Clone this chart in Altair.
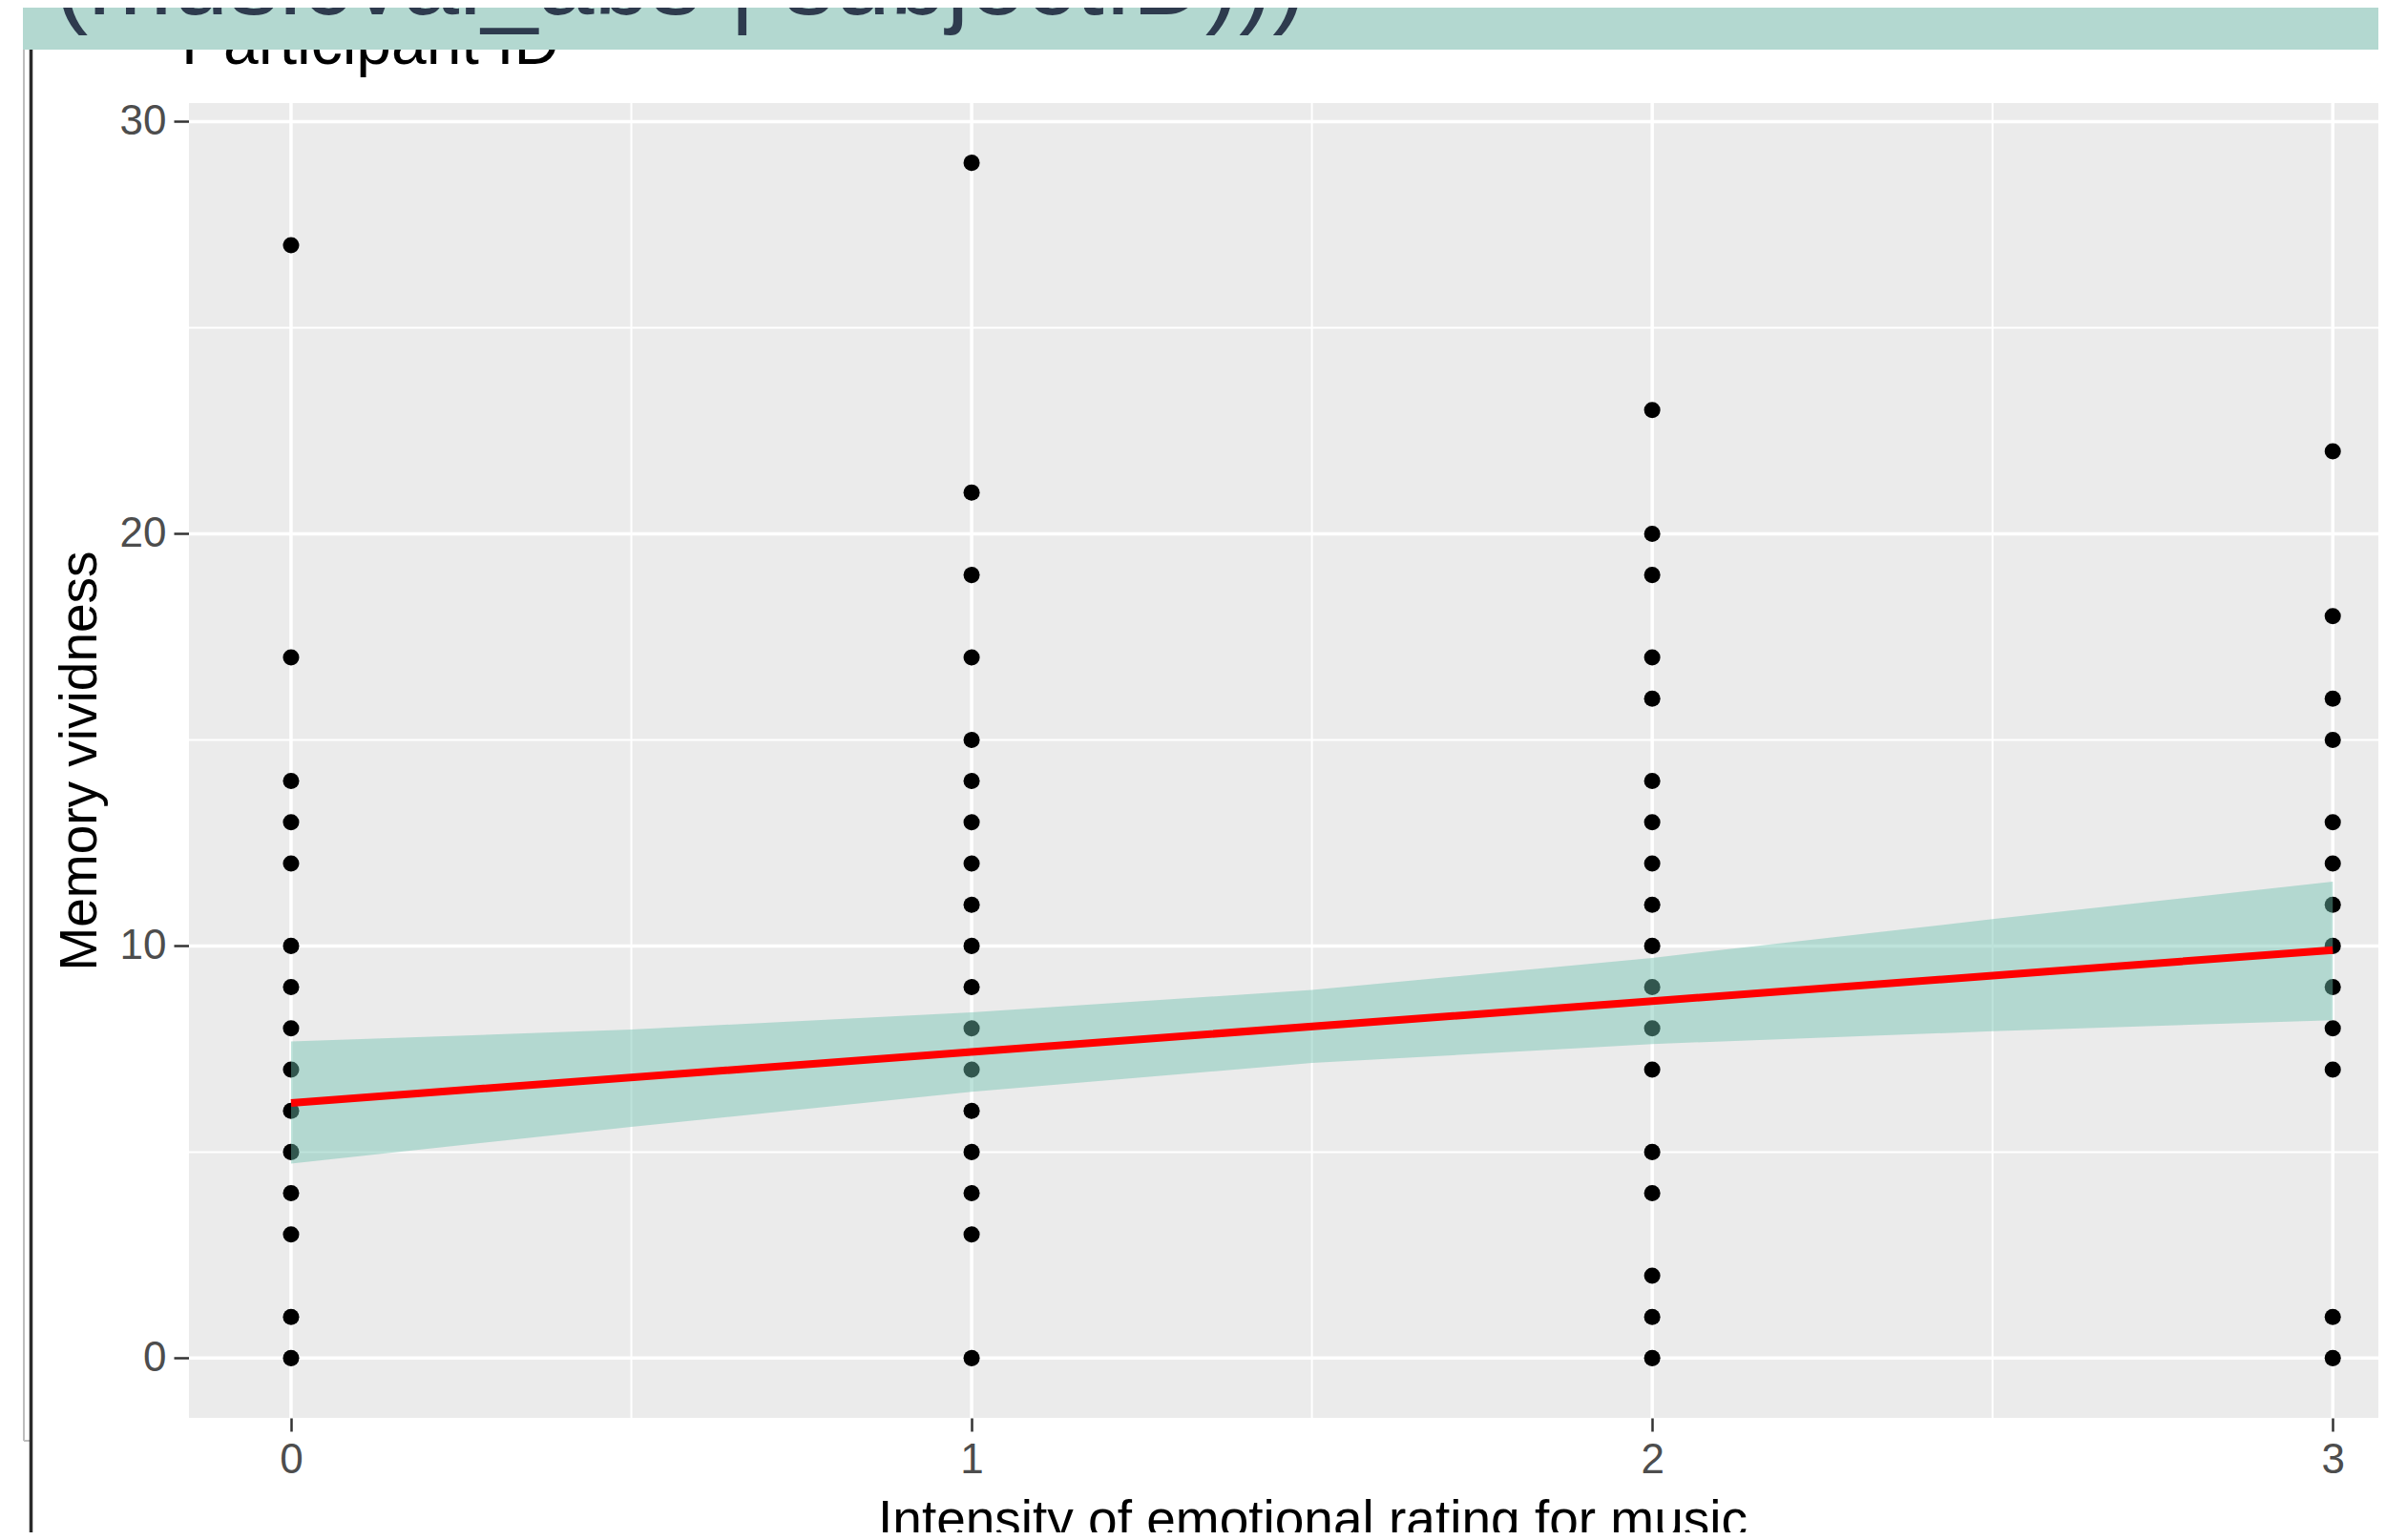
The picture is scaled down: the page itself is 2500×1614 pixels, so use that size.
import altair as alt
import pandas as pd

# ---- data ----
x_levels = [0, 1, 2, 3]
vivid_x0 = [27, 17, 14, 13, 12, 10, 9, 8, 7, 6, 5, 4, 3, 1, 0]
vivid_x1 = [29, 21, 19, 17, 15, 14, 13, 12, 11, 10, 9, 8, 7, 6, 5, 4, 3, 0]
vivid_x2 = [23, 20, 19, 17, 16, 14, 13, 12, 11, 10, 9, 8, 7, 5, 4, 2, 1, 0]
vivid_x3 = [22, 18, 16, 15, 13, 12, 11, 10, 9, 8, 7, 1, 0]

line_x = [0, 1, 2, 3]
line_y = [6.19, 7.43, 8.66, 9.90]

band_x = [0, 0.5, 1, 1.5, 2, 2.5, 3]
band_upper = [7.68, 7.97, 8.39, 8.93, 9.71, 10.65, 11.56]
band_lower = [4.72, 5.61, 6.46, 7.16, 7.62, 7.93, 8.20]

x_major = [0, 1, 2, 3]
x_minor = [0.5, 1.5, 2.5]
y_major = [0, 10, 20, 30]
y_minor = [5, 15, 25]

title_banner = "(musicval_abs | subjectID)))"
title_text = "Participant ID"
x_title = "Intensity of emotional rating for music"
y_title = "Memory vividness"

# ---- tables ----
rows = []
for xv, col in zip(x_levels, [vivid_x0, vivid_x1, vivid_x2, vivid_x3]):
    for v in col:
        rows.append({"emo": xv, "vivid": v})
pts = pd.DataFrame(rows)
line_df = pd.DataFrame({"emo": line_x, "vivid": line_y})
band_df = pd.DataFrame({"emo": band_x, "hi": band_upper, "lo": band_lower})
xmaj_df = pd.DataFrame({"emo": x_major})
xmin_df = pd.DataFrame({"emo": x_minor})
ymaj_df = pd.DataFrame({"vivid": y_major})
ymin_df = pd.DataFrame({"vivid": y_minor})
dummy = pd.DataFrame({"d": [0]})

FONT = "Liberation Sans"
xscale = alt.Scale(domain=[-0.15, 3.067], nice=False, zero=False)
yscale = alt.Scale(domain=[-1.45, 30.45], nice=False, zero=False)

x_axis = alt.Axis(
    values=x_major, format="d", title=x_title, grid=False, domain=False,
    tickColor="#333333", tickWidth=2.5, tickSize=14,
    labelFont=FONT, labelFontSize=44, labelColor="#4D4D4D", labelPadding=8,
    labelFlush=False, labelOverlap=False, labelBound=False,
    titleFont=FONT, titleFontSize=55, titleFontWeight="normal", titleColor="#000000",
    titleX=1177, titleY=124, titleAlign="center", titleBaseline="alphabetic",
)
y_axis = alt.Axis(
    values=y_major, format="d", title=y_title, grid=False, domain=False,
    tickColor="#333333", tickWidth=2.5, tickSize=16,
    labelFont=FONT, labelFontSize=44, labelColor="#4D4D4D", labelPadding=8,
    labelOverlap=False, labelBound=False, labelFlush=False,
    titleFont=FONT, titleFontSize=55, titleFontWeight="normal", titleColor="#000000",
    titleX=-98, titleY=689, titleAngle=270, titleAlign="center", titleBaseline="alphabetic",
)

X = lambda f: alt.X(f, scale=xscale, axis=x_axis)
Y = lambda f: alt.Y(f, scale=yscale, axis=y_axis)

minor_x = alt.Chart(xmin_df).mark_rule(color="white", strokeWidth=2).encode(x=X("emo:Q"))
minor_y = alt.Chart(ymin_df).mark_rule(color="white", strokeWidth=2).encode(y=Y("vivid:Q"))
major_x = alt.Chart(xmaj_df).mark_rule(color="white", strokeWidth=3.5).encode(x=X("emo:Q"))
major_y = alt.Chart(ymaj_df).mark_rule(color="white", strokeWidth=3.5).encode(y=Y("vivid:Q"))

points = alt.Chart(pts).mark_point(
    filled=True, color="black", opacity=1, size=290, strokeWidth=0
).encode(x=X("emo:Q"), y=Y("vivid:Q"))

band = alt.Chart(band_df).mark_area(color="#6FC1B0", opacity=0.45).encode(
    x=X("emo:Q"), y=Y("hi:Q"), y2="lo:Q")

line = alt.Chart(line_df).mark_line(color="#FF0000", strokeWidth=8).encode(
    x=X("emo:Q"), y=Y("vivid:Q"))

# ---- decorations of the cropped screenshot ----
subtitle = alt.Chart(dummy).mark_text(
    text=title_text, align="left", baseline="alphabetic", font=FONT,
    fontSize=66, color="#000000"
).encode(x=alt.value(-8), y=alt.value(-41))

banner = alt.Chart(dummy).mark_rect(color="#B3D8D0").encode(
    x=alt.value(-174), x2=alt.value(2320), y=alt.value(-120), y2=alt.value(-56))

banner_text = alt.Chart(dummy).mark_text(
    text=title_banner, align="left", baseline="alphabetic", font=FONT,
    fontSize=106, color="#2E3B4E"
).encode(x=alt.value(-141), y=alt.value(-93))

gray_v = alt.Chart(dummy).mark_rule(color="#BDBDBD", strokeWidth=2).encode(
    x=alt.value(-173), y=alt.value(-56), y2=alt.value(1402))
gray_h = alt.Chart(dummy).mark_rule(color="#BDBDBD", strokeWidth=2).encode(
    x=alt.value(-173), x2=alt.value(-166), y=alt.value(1402))
black_v = alt.Chart(dummy).mark_rule(color="#2B2B2B", strokeWidth=3.5).encode(
    x=alt.value(-165.5), y=alt.value(-56), y2=alt.value(1520))

chart = alt.layer(
    minor_x, minor_y, major_x, major_y, points, band, line,
    subtitle, banner, banner_text, gray_v, gray_h, black_v,
).properties(
    width=2294, height=1378,
    autosize=alt.AutoSizeParams(type="none"),
    padding={"left": 190, "top": 100, "right": 0, "bottom": 120},
    background="white",
).configure_view(
    fill="#EBEBEB", stroke=None, strokeWidth=0,
)

chart.save("out.html", embed_options={"renderer": "svg", "actions": False})
